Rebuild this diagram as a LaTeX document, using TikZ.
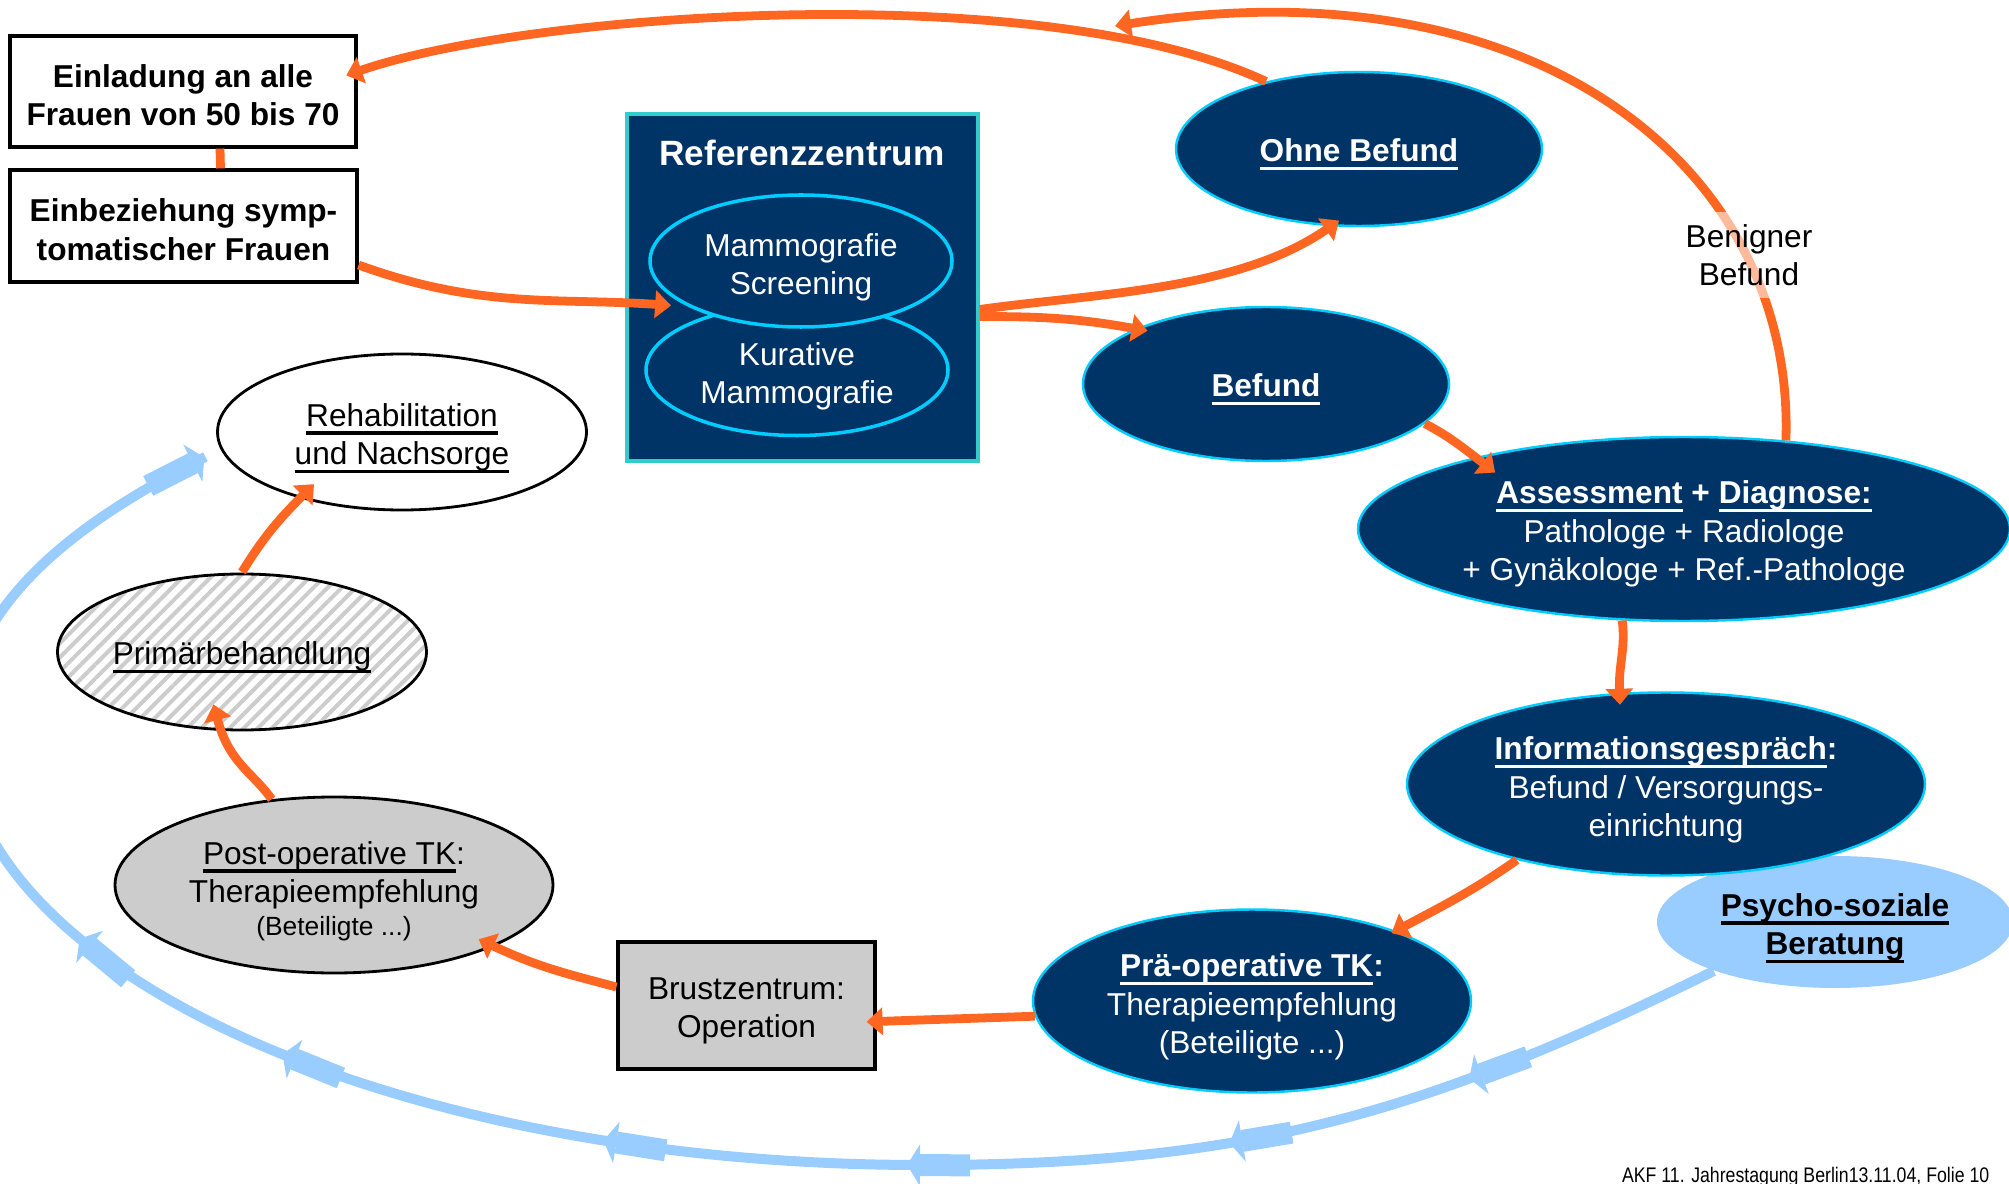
\documentclass[tikz,border=0pt]{standalone}
\usepackage{fontspec}
\setmainfont{Liberation Sans}
\usepackage{graphicx}
\usepackage{tikz}
\usetikzlibrary{positioning,arrows.meta}
\usetikzlibrary{shapes.geometric}
\usetikzlibrary{patterns.meta}
\usetikzlibrary{decorations.markings}

\definecolor{navy}{RGB}{0,51,102}
\definecolor{cyanrand}{RGB}{0,204,255}
\definecolor{tuerkis}{RGB}{51,204,204}
\definecolor{orangepfeil}{RGB}{255,102,34}
\definecolor{hellblau}{RGB}{153,204,255}
\definecolor{grau}{RGB}{204,204,204}

% Schrift der Folie
\newcommand{\folienschrift}{\fontsize{9}{10.9}\selectfont}
% Unterstreichung wie in der Folie
\newcommand{\uln}[1]{\leavevmode\setbox0=\hbox{#1}\rlap{\rule[-2.4pt]{\wd0}{0.9pt}}\box0\relax}
% etwas Luft ueber der ersten Zeile, damit der Text mittig sitzt
\newcommand{\oben}[1]{\rule{0pt}{#1}}
% Blockpfeil auf dem hellblauen Bogen
\newcommand{\blockpfeil}{\fill[hellblau] (-0.63,-0.11) rectangle (-0.13,0.11);
    \fill[hellblau] (-0.13,0.21) -- (0,0) -- (-0.13,-0.21) -- cycle;}

\begin{document}
\begin{tikzpicture}[
    kasten/.style={rectangle, draw=black, line width=0.9pt, align=center,
        inner sep=0pt, font=\folienschrift\bfseries},
    blauoval/.style={ellipse, draw=cyanrand, line width=0.7pt, fill=navy,
        text=white, align=center, inner sep=0pt, font=\folienschrift},
    innenoval/.style={blauoval, line width=1pt},
    weissoval/.style={ellipse, draw=black, line width=0.8pt, align=center,
        inner sep=0pt, font=\folienschrift},
    linie/.style={draw=orangepfeil, line width=2.5pt},
    pfeil/.style={linie, -{Triangle[length=0.16cm, width=0.27cm]}},
    bogen/.style={draw=hellblau, line width=0.1cm, postaction={decorate},
        decoration={markings,
            mark=at position 0.114 with {\blockpfeil},
            mark=at position 0.220 with {\blockpfeil},
            mark=at position 0.358 with {\blockpfeil},
            mark=at position 0.488 with {\blockpfeil},
            mark=at position 0.630 with {\blockpfeil},
            mark=at position 0.730 with {\blockpfeil},
            mark=at position 0.9995 with {\blockpfeil}}}
]

    \useasboundingbox (0,0) rectangle (20.09,-11.84);

    % Einladung und symptomatische Frauen
    \node[kasten, minimum width=3.46cm, minimum height=1.11cm] (einladung) at (1.83,-0.915)
        {\oben{8.6pt}Einladung an alle\\Frauen von 50 bis 70};
    \node[kasten, minimum width=3.47cm, minimum height=1.12cm] (einbeziehung) at (1.835,-2.26)
        {\oben{8.6pt}Einbeziehung symp-\\tomatischer Frauen};

    % Referenzzentrum mit den beiden Mammografien
    \node[rectangle, draw=tuerkis, line width=0.9pt, fill=navy,
        minimum width=3.51cm, minimum height=3.47cm] (referenz) at (8.025,-2.875) {};
    \node[text=white, font=\fontsize{10}{12}\selectfont\bfseries] (reftitel) at (8.02,-1.525)
        {Referenzzentrum};
    \node[innenoval, minimum width=3.02cm, minimum height=1.31cm] (kurativ) at (7.97,-3.70)
        {\oben{10pt}Kurative\\Mammografie};
    \node[innenoval, minimum width=3.02cm, minimum height=1.32cm] (screening) at (8.01,-2.61)
        {\oben{10pt}Mammografie\\Screening};

    % Befunde und Diagnose
    \node[blauoval, font=\folienschrift\bfseries, minimum width=3.66cm, minimum height=1.54cm]
        (ohne) at (13.59,-1.49) {\oben{9.4pt}\uln{Ohne Befund}};
    \node[blauoval, font=\folienschrift\bfseries, minimum width=3.66cm, minimum height=1.54cm]
        (befund) at (12.66,-3.84) {\oben{9.4pt}\uln{Befund}};
    \node[blauoval, minimum width=6.52cm, minimum height=1.84cm] (assessment) at (16.84,-5.29)
        {\oben{9.4pt}{\bfseries\uln{Assessment} + \uln{Diagnose:}}\\Pathologe + Radiologe\\+ Gynäkologe + Ref.-Pathologe};

    % Psycho-soziale Beratung liegt hinter dem Informationsgespraech
    \node[ellipse, fill=hellblau, align=center, inner sep=0pt, font=\folienschrift\bfseries,
        minimum width=3.56cm, minimum height=1.32cm] (psycho) at (18.35,-9.22)
        {\oben{10pt}\uln{Psycho-soziale}\\\uln{Beratung}};
    \node[blauoval, minimum width=5.18cm, minimum height=1.83cm] (info) at (16.66,-7.84)
        {\oben{10pt}{\bfseries\uln{Informationsgespräch}:}\\Befund / Versorgungs-\\einrichtung};
    \node[blauoval, minimum width=4.38cm, minimum height=1.83cm] (praeop) at (12.52,-10.01)
        {\oben{10pt}{\bfseries\uln{Prä-operative TK}:}\\Therapieempfehlung\\(Beteiligte ...)};

    % Behandlung und Nachsorge
    \node[kasten, fill=grau, font=\folienschrift, minimum width=2.57cm, minimum height=1.27cm]
        (brust) at (7.465,-10.055) {\oben{9.4pt}Brustzentrum:\\Operation};
    \node[weissoval, fill=grau, minimum width=4.38cm, minimum height=1.76cm] (postop) at (3.34,-8.85)
        {\oben{10pt}\uln{Post-operative TK}:\\Therapieempfehlung\\[-1.5pt]{\fontsize{7.5}{9}\selectfont (Beteiligte ...)}};
    \node[weissoval, pattern={Lines[angle=45, distance=0.1cm, line width=0.04cm]},
        pattern color=gray!40, minimum width=3.69cm, minimum height=1.56cm] (primaer) at (2.42,-6.52)
        {\oben{9.4pt}\uln{Primärbehandlung}};
    \node[weissoval, minimum width=3.69cm, minimum height=1.56cm] (reha) at (4.02,-4.32)
        {\oben{10pt}\uln{Rehabilitation}\\\uln{und Nachsorge}};

    % Rueckweg zur Einladung
    \draw[pfeil, shorten >=-1.2mm] (ohne.144) .. controls (10.40,0.24) and (5.26,-0.13) .. ([yshift=2mm]einladung.east);
    \draw[linie] ([xshift=3.7mm]einladung.south) -- ([xshift=3.7mm]einbeziehung.north);

    % Benigner Befund geht ebenfalls zurueck
    \coordinate (rueckweg) at (11.15,-0.26);
    \draw[pfeil] (assessment.41) .. controls (17.95,-1.70) and (15.40,0.40) .. (rueckweg);
    \node[font=\folienschrift, align=center, fill=white, fill opacity=0.55, text opacity=1,
        inner sep=1.2mm] (benigner) at (17.49,-2.55) {Benigner\\Befund};

    % vom Screening zu den Befunden
    \draw[pfeil, shorten >=1.7mm] ([yshift=-3.9mm]einbeziehung.east) to[out=-20, in=176] (screening.202);
    \draw[pfeil, shorten >=-1mm] ([yshift=-2.2mm]referenz.east) to[out=8, in=215, looseness=0.8] (ohne.250);
    \draw[pfeil, shorten >=-1.2mm] ([yshift=-2.9mm]referenz.east) to[out=0, in=170] (befund.157);
    \draw[pfeil, shorten >=-2.5mm] (befund.-14) to[out=-28, in=142] (assessment.161);

    % Diagnose, Information, Therapie
    \draw[pfeil, shorten >=-1.2mm] (assessment.236) to[out=-83, in=92] (info.117);
    \draw[pfeil, shorten >=-0.5mm] (info.207) to[out=215, in=28] (praeop.26);
    \draw[pfeil, shorten >=-1mm] (praeop.184) to[out=182, in=2] ([yshift=-1.6mm]brust.east);
    \draw[pfeil, shorten >=-1.7mm] ([yshift=1.85mm]brust.west) to[out=165, in=-25] (postop.-21);
    \draw[pfeil, shorten >=-2.8mm] (postop.126) to[out=125, in=-75] (primaer.255);
    \draw[pfeil, shorten >=-2mm] (primaer.north) to[out=58, in=225] (reha.213);

    % psycho-soziale Begleitung bis zur Nachsorge
    \draw[bogen] (psycho.202) .. controls (14.23,-11.14) and (12.49,-11.65) .. (9.22,-11.65)
        .. controls (3.92,-11.65) and (-0.38,-9.70) .. (-0.38,-7.30)
        .. controls (-0.38,-6.00) and (0.89,-5.16) .. ([xshift=-2mm]reha.188);

    % Fusszeile
    \node[font=\fontsize{6}{7}\selectfont, anchor=base east, inner sep=0pt] (fusszeile) at (19.90,-11.82)
        {\scalebox{0.84}[1]{AKF 11. Jahrestagung Berlin13.11.04, Folie 10}};

\end{tikzpicture}
\end{document}
